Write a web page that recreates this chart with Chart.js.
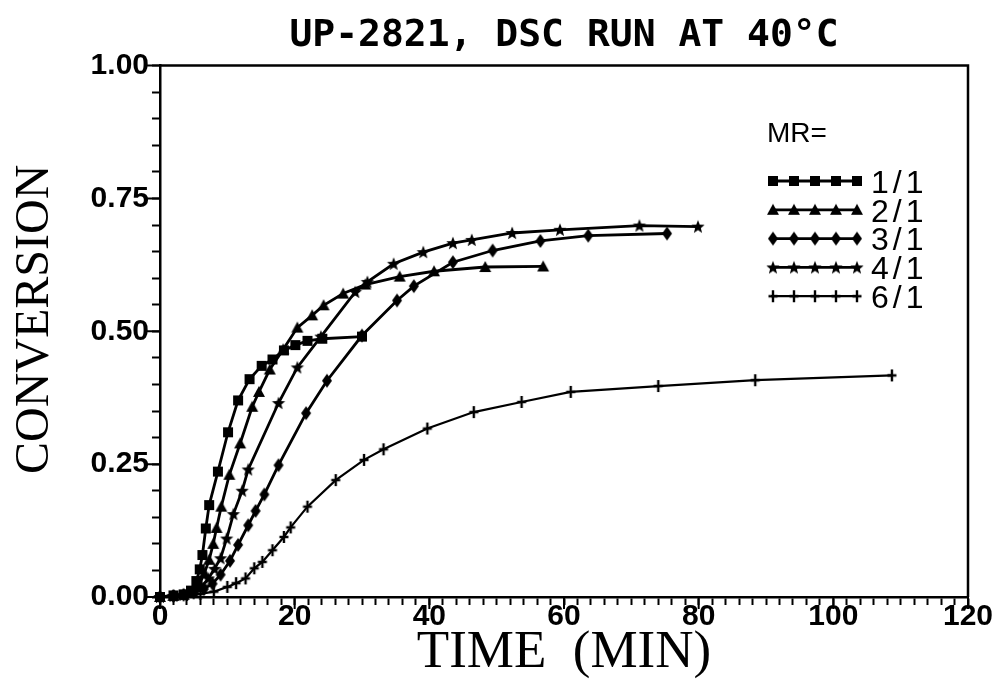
<!DOCTYPE html>
<html>
<head>
<meta charset="utf-8">
<style>
  html, body { margin: 0; padding: 0; background: #fff; }
  #wrap { width: 998px; height: 692px; }
</style>
<script src="https://cdn.jsdelivr.net/npm/chart.js@4.4.1/dist/chart.umd.min.js"></script>
</head>
<body>
<div id="wrap"><canvas id="dsc" width="998" height="692"></canvas></div>
<script>
// time (min) / conversion
const seriesNames = ["1/1", "2/1", "3/1", "4/1", "6/1"];

const t11 = [0, 2, 3.5, 4.6, 5.4, 5.9, 6.3, 6.8, 7.3, 8.6, 10.1, 11.6, 13.3, 15.1, 16.7, 18.4, 20.1, 21.9, 24.1, 30.0];
const c11 = [0, 0.003, 0.005, 0.012, 0.03, 0.052, 0.079, 0.129, 0.173, 0.236, 0.31, 0.37, 0.41, 0.435, 0.447, 0.464, 0.474, 0.482, 0.486, 0.49];

const t21 = [0, 2, 3.5, 4.8, 5.8, 6.6, 7.3, 7.9, 8.4, 9.1, 10.3, 11.9, 13.7, 14.7, 16.3, 18.3, 20.4, 22.6, 24.3, 27.2, 30.5, 35.6, 40.7, 48.3, 56.9];
const c21 = [0, 0.002, 0.004, 0.01, 0.022, 0.045, 0.07, 0.1, 0.13, 0.17, 0.23, 0.289, 0.358, 0.386, 0.428, 0.466, 0.507, 0.53, 0.549, 0.571, 0.588, 0.603, 0.613, 0.621, 0.622];

const t31 = [0, 2, 3.5, 5, 6.5, 7.8, 9, 10.4, 11.6, 13.1, 14.2, 15.5, 17.6, 21.7, 24.8, 30.0, 35.2, 37.7, 43.5, 49.4, 56.5, 63.6, 75.3];
const c31 = [0, 0.002, 0.004, 0.008, 0.015, 0.025, 0.042, 0.068, 0.098, 0.135, 0.162, 0.193, 0.248, 0.346, 0.407, 0.492, 0.558, 0.585, 0.63, 0.652, 0.67, 0.68, 0.684];

const t41 = [0, 2, 3.5, 5, 6.2, 7.2, 8.1, 9.0, 9.9, 10.9, 12.2, 13.1, 17.6, 20.4, 23.9, 29.0, 30.8, 34.7, 39.1, 43.5, 46.3, 52.3, 59.4, 71.2, 79.9];
const c41 = [0, 0.002, 0.004, 0.01, 0.02, 0.035, 0.053, 0.073, 0.11, 0.156, 0.2, 0.24, 0.365, 0.432, 0.49, 0.574, 0.593, 0.627, 0.649, 0.666, 0.672, 0.685, 0.691, 0.699, 0.697];

const t61 = [0, 2, 4, 6, 8, 10, 11.3, 12.7, 14, 15.2, 16.7, 18.4, 19.4, 21.9, 26.1, 30.3, 33.2, 39.7, 46.6, 53.7, 61, 74, 88.4, 108.7];
const c61 = [0, 0.002, 0.004, 0.006, 0.01, 0.019, 0.026, 0.035, 0.054, 0.066, 0.088, 0.113, 0.131, 0.17, 0.22, 0.258, 0.278, 0.317, 0.348, 0.367, 0.386, 0.397, 0.408, 0.417];

const xMajor = [0, 20, 40, 60, 80, 100, 120];
const yMajor = [0, 0.25, 0.5, 0.75, 1];

function makeMarker(kind) {
  const c = document.createElement("canvas");
  c.width = 18;
  c.height = 18;
  const g = c.getContext("2d");
  const m = 9;
  g.fillStyle = "#000";
  g.strokeStyle = "#000";
  g.beginPath();
  if (kind === "square") {
    g.rect(m - 5, m - 5, 10, 10);
    g.fill();
  } else if (kind === "triangle") {
    g.moveTo(m, m - 6);
    g.lineTo(m + 6, m + 5);
    g.lineTo(m - 6, m + 5);
    g.closePath();
    g.fill();
  } else if (kind === "diamond") {
    g.moveTo(m, m - 7);
    g.lineTo(m + 5, m);
    g.lineTo(m, m + 7);
    g.lineTo(m - 5, m);
    g.closePath();
    g.fill();
  } else if (kind === "star") {
    for (let i = 0; i < 10; i++) {
      const r = i % 2 === 0 ? 7 : 3;
      const a = -Math.PI / 2 + (i * Math.PI) / 5;
      const px = m + r * Math.cos(a);
      const py = m + 0.5 + r * Math.sin(a);
      if (i === 0) g.moveTo(px, py);
      else g.lineTo(px, py);
    }
    g.closePath();
    g.fill();
  } else {
    g.lineWidth = 2.4;
    g.moveTo(m, m - 6);
    g.lineTo(m, m + 6);
    g.moveTo(m - 4.5, m);
    g.lineTo(m + 4.5, m);
    g.stroke();
  }
  return c;
}

const markers = ["square", "triangle", "diamond", "star", "cross"].map(makeMarker);

function pts(ts, cs) {
  return ts.map((t, i) => ({ x: t, y: cs[i] }));
}

const allData = [pts(t11, c11), pts(t21, c21), pts(t31, c31), pts(t41, c41), pts(t61, c61)];

const datasets = allData.map((d, i) => ({
  label: seriesNames[i],
  data: d,
  showLine: true,
  borderColor: "#000",
  backgroundColor: "#000",
  borderWidth: i === 4 ? 2.2 : 2.8,
  pointStyle: markers[i],
  pointRadius: 5,
  tension: 0,
  clip: false,
}));

const framePlugin = {
  id: "frame",
  afterDraw(chart) {
    const { ctx, chartArea } = chart;
    const xs = chart.scales.x;
    const ys = chart.scales.y;
    ctx.save();
    ctx.strokeStyle = "#000";
    ctx.lineWidth = 2.5;
    ctx.beginPath();
    ctx.moveTo(chartArea.left, chartArea.top);
    ctx.lineTo(chartArea.right, chartArea.top);
    ctx.lineTo(chartArea.right, chartArea.bottom);
    ctx.stroke();

    // longer ticks at the labelled values
    ctx.lineWidth = 2;
    ctx.beginPath();
    xMajor.forEach((v) => {
      const px = xs.getPixelForValue(v);
      ctx.moveTo(px, chartArea.bottom);
      ctx.lineTo(px, chartArea.bottom + 12);
    });
    yMajor.forEach((v) => {
      const py = ys.getPixelForValue(v);
      ctx.moveTo(chartArea.left, py);
      ctx.lineTo(chartArea.left - 14, py);
    });
    ctx.stroke();

    // legend
    ctx.fillStyle = "#000";
    ctx.textBaseline = "middle";
    ctx.textAlign = "left";
    ctx.font = "28px 'Liberation Sans'";
    ctx.fillText("MR=", 767, 134);
    ctx.font = "32px 'Liberation Sans'";
    ctx.letterSpacing = "4px";
    seriesNames.forEach((name, i) => {
      const ly = 181 + i * 28.8;
      ctx.lineWidth = i === 4 ? 2.2 : 2.8;
      ctx.beginPath();
      ctx.moveTo(771, ly);
      ctx.lineTo(858, ly);
      ctx.stroke();
      for (let k = 0; k < 5; k++) {
        const mx = 773 + k * 21;
        ctx.drawImage(markers[i], mx - 9, ly - 9);
      }
      ctx.fillText(name, 871, ly + 3);
    });
    ctx.restore();
  },
};

const tickFont = { family: "'Liberation Sans'", size: 30, weight: "bold" };

new Chart(document.getElementById("dsc").getContext("2d"), {
  type: "scatter",
  data: { datasets: datasets },
  options: {
    responsive: false,
    animation: false,
    layout: { padding: { left: 0, right: 30, top: 0, bottom: 0 } },
    plugins: {
      legend: { display: false },
      tooltip: { enabled: false },
      title: {
        display: true,
        text: "UP-2821, DSC RUN AT 40°C",
        fullSize: false,
        color: "#000",
        font: { family: "'DejaVu Sans Mono'", size: 38, weight: "bold" },
        padding: { top: 13, bottom: 7 },
      },
    },
    scales: {
      x: {
        type: "linear",
        min: 0,
        max: 120,
        afterFit: (s) => {
          s.height = 95;
        },
        border: { color: "#000", width: 2.5 },
        grid: { drawOnChartArea: false, tickLength: 8, tickColor: "#000", tickWidth: 2 },
        ticks: {
          stepSize: 2,
          autoSkip: false,
          maxRotation: 0,
          padding: -6,
          color: "#000",
          font: tickFont,
          callback: (v) => (v % 20 === 0 ? String(v) : ""),
        },
        title: {
          display: true,
          text: "TIME  (MIN)",
          color: "#000",
          font: { family: "'Liberation Serif'", size: 53 },
          padding: { top: 0, bottom: 7 },
        },
      },
      y: {
        type: "linear",
        min: 0,
        max: 1,
        afterFit: (s) => {
          s.width = 160;
        },
        border: { color: "#000", width: 2.5 },
        grid: { drawOnChartArea: false, tickLength: 8, tickColor: "#000", tickWidth: 2 },
        ticks: {
          stepSize: 0.05,
          autoSkip: false,
          padding: 3,
          color: "#000",
          font: tickFont,
          callback: (v) => (Math.round(v * 100) % 25 === 0 ? v.toFixed(2) : ""),
        },
        title: {
          display: true,
          text: "  CONVERSION",
          color: "#000",
          font: { family: "'Liberation Serif'", size: 48 },
          padding: { top: 7, bottom: 0 },
        },
      },
    },
  },
  plugins: [framePlugin],
});
</script>
</body>
</html>
